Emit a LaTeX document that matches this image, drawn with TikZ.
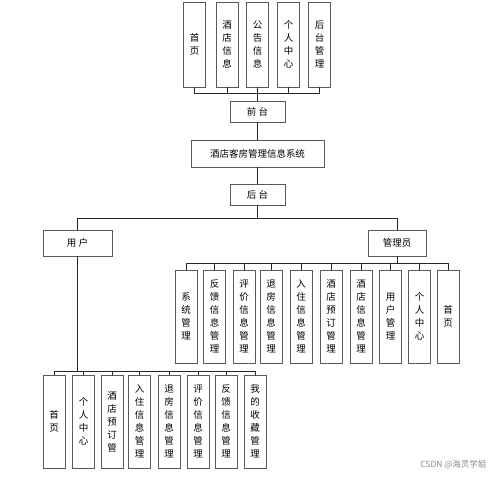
\documentclass[tikz,border=0pt]{standalone}
\usepackage{fontspec}
\newfontfamily\cjk{Noto Sans CJK SC}
\tikzset{
  box/.style={draw=black!65, line width=0.6pt, inner sep=0pt, align=center,
    font=\cjk\fontsize{9.5}{13}\selectfont},
  vbox/.style={box, minimum width=22pt, minimum height=93pt},
  hbox/.style={box, minimum height=21pt},
  link/.style={draw=black!85, line width=0.6pt},
}
\begin{document}
\begin{tikzpicture}[x=1pt,y=-1pt]
  \useasboundingbox (0,0) rectangle (499,477);

  % front end pages
  \node[vbox, minimum height=85pt] (t1) at (194.5,44.5) {首\\页};
  \node[vbox, minimum height=85pt] (t2) at (227,44.5)   {酒\\店\\信\\息};
  \node[vbox, minimum height=85pt] (t3) at (257.5,44.5) {公\\告\\信\\息};
  \node[vbox, minimum height=85pt] (t4) at (288.5,44.5) {个\\人\\中\\心};
  \node[vbox, minimum height=85pt] (t5) at (319.5,44.5) {后\\台\\管\\理};
  \coordinate (topbus) at (257.5,93);

  \node[hbox, minimum width=55pt]  (front) at (257.5,111.5) {前 台};
  \node[box, minimum width=133pt, minimum height=27pt] (sys) at (257.5,153.5) {酒店客房管理信息系统};
  \node[hbox, minimum width=55pt]  (back)  at (257.5,194.5) {后 台};
  \coordinate (mainbus) at (257.5,218);

  \node[box, minimum width=69pt, minimum height=26pt] (user)  at (77.5,243) {用 户};
  \node[box, minimum width=58pt, minimum height=26pt] (admin) at (397,243)  {管理员};

  % admin modules
  \coordinate (abus) at (397,263);
  \node[vbox] (a1)  at (186,316.5)   {系\\统\\管\\理};
  \node[vbox] (a2)  at (214.5,316.5) {反\\馈\\信\\息\\管\\理};
  \node[vbox] (a3)  at (244,316.5)   {评\\价\\信\\息\\管\\理};
  \node[vbox] (a4)  at (271,316.5)   {退\\房\\信\\息\\管\\理};
  \node[vbox] (a5)  at (301,316.5)   {入\\住\\信\\息\\管\\理};
  \node[vbox] (a6)  at (331,316.5)   {酒\\店\\预\\订\\管\\理};
  \node[vbox] (a7)  at (361,316.5)   {酒\\店\\信\\息\\管\\理};
  \node[vbox] (a8)  at (390.5,316.5) {用\\户\\管\\理};
  \node[vbox] (a9)  at (419.5,316.5) {个\\人\\中\\心};
  \node[vbox] (a10) at (448,316.5)   {首\\页};

  % user modules
  \coordinate (ubus) at (77.5,371);
  \node[vbox] (u1) at (54,421.5)    {首\\页};
  \node[vbox] (u2) at (83.5,421.5)  {个\\人\\中\\心};
  \node[vbox] (u3) at (112,421.5)   {酒\\店\\预\\订\\管};
  \node[vbox] (u4) at (139.5,421.5) {入\\住\\信\\息\\管\\理};
  \node[vbox] (u5) at (169,421.5)   {退\\房\\信\\息\\管\\理};
  \node[vbox] (u6) at (198,421.5)   {评\\价\\信\\息\\管\\理};
  \node[vbox] (u7) at (226,421.5)   {反\\馈\\信\\息\\管\\理};
  \node[vbox] (u8) at (255,421.5)   {我\\的\\收\\藏\\管\\理};

  % connectors
  \foreach \n in {t1,t2,t3,t4,t5}
    \draw[link] (\n.south) |- (topbus);
  \draw[link] (topbus) -- (front);
  \draw[link] (front) -- (sys);
  \draw[link] (sys) -- (back);
  \draw[link] (back) -- (mainbus);
  \draw[link] (mainbus) -| (user.north);
  \draw[link] (mainbus) -| (admin.north);
  \draw[link] (admin.south) -- (abus);
  \foreach \n in {a1,a2,a3,a4,a5,a6,a7,a8,a9,a10}
    \draw[link] (abus) -| (\n.north);
  \draw[link] (user.south) -- (ubus);
  \foreach \n in {u1,u2,u3,u4,u5,u6,u7,u8}
    \draw[link] (ubus) -| (\n.north);

  \node[font=\cjk\fontsize{8.5}{10}\selectfont, text=black!45, anchor=east] (mark) at (490,465) {CSDN @海灵学姐};
\end{tikzpicture}
\end{document}
